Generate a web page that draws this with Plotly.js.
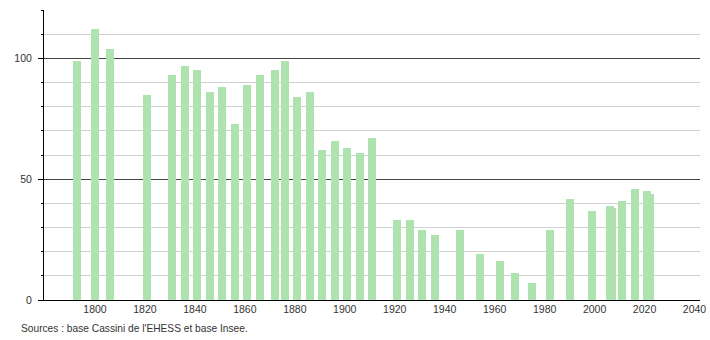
<!DOCTYPE html>
<html>
<head>
<meta charset="utf-8">
<script src="https://cdn.plot.ly/plotly-3.0.1.min.js"></script>
<style>html,body{margin:0;padding:0;background:#fff;}#chart{width:710px;height:340px;}</style>
</head>
<body>
<div id="chart"></div>
<script>
const years = [1793, 1800, 1806, 1821, 1831, 1836, 1841, 1846, 1851, 1856, 1861, 1866, 1872, 1876, 1881, 1886, 1891, 1896, 1901, 1906, 1911, 1921, 1926, 1931, 1936, 1946, 1954, 1962, 1968, 1975, 1982, 1990, 1999, 2006, 2007, 2011, 2016, 2021, 2022];
const population = [99, 112, 104, 85, 93, 97, 95, 86, 88, 73, 89, 93, 95, 99, 84, 86, 62, 66, 63, 61, 67, 33, 33, 29, 27, 29, 19, 16, 11, 7, 29, 42, 37, 39, 38, 41, 46, 45, 44];
const majorTicks = [0, 50, 100];
const minorStep = 10;
const xTicks = [1800, 1820, 1840, 1860, 1880, 1900, 1920, 1940, 1960, 1980, 2000, 2020, 2040];
const sourceText = "Sources : base Cassini de l'EHESS et base Insee.";

const font = {family: 'Liberation Sans, Arial, sans-serif', size: 10.5, color: '#333'};

const trace = {
  type: 'bar',
  x: years,
  y: population,
  width: 3.2,
  marker: {color: '#aee2ae', line: {width: 0}},
  hoverinfo: 'x+y'
};

const layout = {
  width: 710, height: 340,
  margin: {l: 44, r: 10, t: 10, b: 40},
  paper_bgcolor: '#fff', plot_bgcolor: '#fff',
  showlegend: false,
  font: font,
  xaxis: {
    range: [1779.6, 2042.2],
    tickvals: xTicks,
    ticktext: xTicks.map(String),
    showgrid: false, zeroline: false,
    showline: true, linecolor: '#000', linewidth: 1,
    ticks: '', tickfont: font,
    ticklabelstandoff: -1
  },
  yaxis: {
    range: [0, 120],
    tickvals: majorTicks,
    ticktext: majorTicks.map(String),
    ticks: 'outside', ticklen: 5, tickcolor: '#000', tickwidth: 1,
    showgrid: true, gridcolor: '#444', gridwidth: 1,
    minor: {
      dtick: minorStep, tick0: 0,
      ticks: 'outside', ticklen: 2, tickcolor: '#000', tickwidth: 1,
      showgrid: true, gridcolor: '#d0d0d0', gridwidth: 1
    },
    zeroline: false,
    showline: true, linecolor: '#000', linewidth: 1,
    tickfont: font,
    ticklabelstandoff: 4
  },
  annotations: [{
    text: sourceText,
    xref: 'paper', yref: 'paper',
    x: -25/656, y: -28/290,
    xanchor: 'left', yanchor: 'middle',
    showarrow: false,
    font: {family: font.family, size: 10.2, color: '#333'}
  }],
  bargap: 0
};

Plotly.newPlot('chart', [trace], layout, {displayModeBar: false, staticPlot: true});
</script>
</body>
</html>
